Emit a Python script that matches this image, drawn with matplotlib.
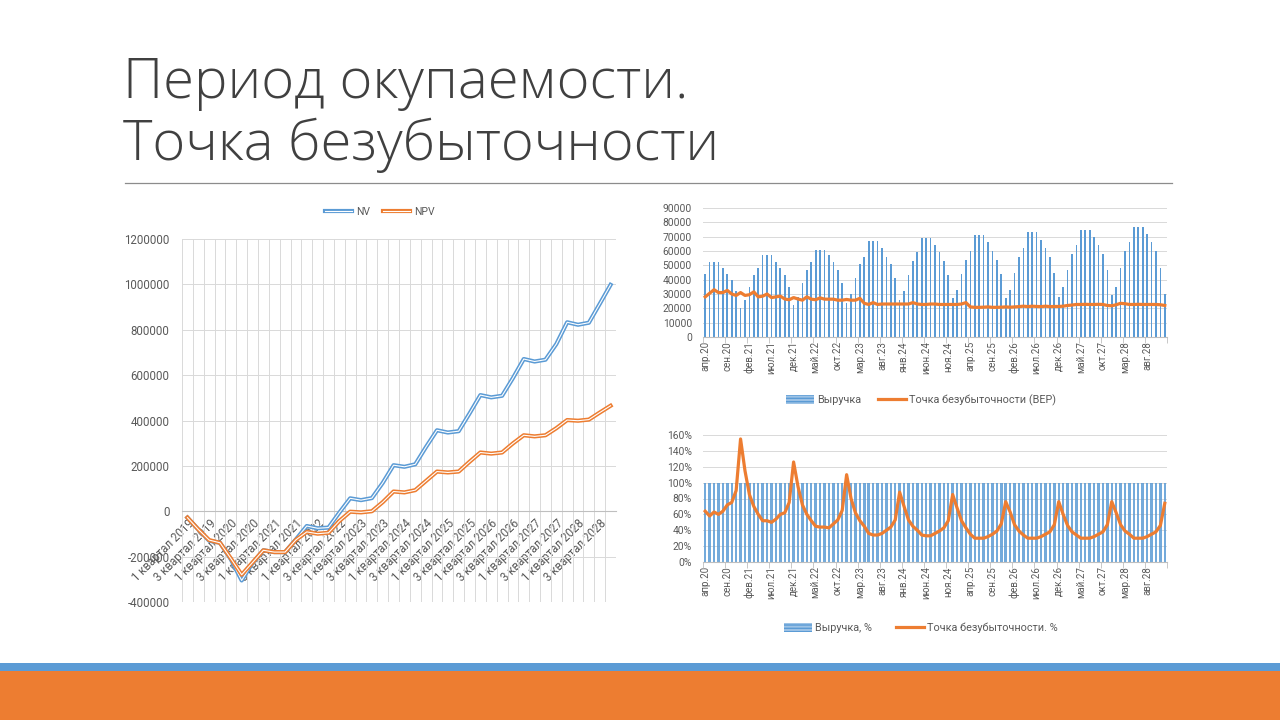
import matplotlib
matplotlib.use("Agg")
import matplotlib.pyplot as plt
import matplotlib.patheffects as pe
from matplotlib.patches import Rectangle, Patch
from matplotlib.lines import Line2D
import numpy as np

# ---------------- data ----------------
quarter_labels = [f"{q} квартал {y}" for y in range(2019, 2029) for q in range(1, 5)]
nv = [-28000, -80000, -130000, -139000, -212000, -305000, -228000, -172000, -180000, -180000,
      -124000, -65000, -75000, -72000, -6000, 57000, 49000, 58000, 125000, 203000,
      196000, 207000, 284000, 357000, 347000, 353000, 431000, 512000, 502000, 509000,
      587000, 671000, 660000, 668000, 737000, 833000, 822000, 831000, 914000, 998000]
npv = [-28000, -80000, -127000, -139000, -208000, -280000, -226000, -172000, -180000, -180000,
       -126000, -91000, -99000, -95000, -43000, -2000, -5000, 0, 40000, 87000,
       83000, 93000, 134000, 175000, 171000, 175000, 218000, 259000, 254000, 259000,
       299000, 335000, 330000, 335000, 366000, 402000, 399000, 404000, 435000, 465000]

month_names = ["янв", "фев", "мар", "апр", "май", "июн", "июл", "авг", "сен", "окт", "ноя", "дек"]
month_labels = [f"{month_names[m]}.{y % 100}" for y in range(2020, 2029) for m in range(12)
                if not (y == 2020 and m < 3)]

revenue = [44, 52, 52, 52, 48, 44, 40, 32, 20,
           26, 35, 43, 48, 57, 57, 57, 52, 48, 43, 35, 22,
           28, 38, 47, 52, 61, 61, 61, 57, 52, 47, 38, 24,
           30, 41, 51, 56, 67, 67, 67, 62, 56, 51, 41, 26,
           32, 43, 53, 59, 69, 69, 69, 64, 59, 53, 43, 27,
           33, 44, 54, 60, 71, 71, 71, 66, 60, 54, 44, 27,
           33, 45, 56, 62, 73, 73, 73, 68, 62, 56, 45, 28,
           35, 47, 58, 64, 75, 75, 75, 70, 64, 58, 47, 29,
           35, 48, 60, 66, 77, 77, 77, 72, 66, 60, 48, 30]  # thousands

bep = [28, 30.5, 33, 31, 31, 32.5, 30, 29, 31,
       29, 29.5, 31.5, 28, 28.5, 30, 27.5, 28, 28.5, 26.5, 26, 27.5,
       26.5, 25.7, 28, 26.4, 26, 27.3, 26.4, 26.4, 26.4, 25.7, 25.7, 26.2,
       25.7, 25.7, 27, 23.5, 22.7, 24, 22.7, 23, 23, 23, 23, 23,
       23, 23, 24, 23, 22.7, 22.7, 23, 23, 22.7, 22.7, 22.7, 22.7,
       22.7, 23, 24, 21, 20.7, 20.7, 20.8, 21, 20.7, 20.7, 20.8, 21,
       20.8, 21, 21.2, 21.5, 21.2, 21.5, 21.3, 21.2, 21.5, 21.2, 21.3, 21.3,
       21.5, 22, 22.3, 22.7, 22.7, 22.8, 22.7, 22.7, 22.8, 22.7, 22, 21.8,
       22.5, 23.5, 23.2, 22.7, 22.7, 22.8, 22.7, 22.7, 22.7, 22.7, 22.5, 22]  # thousands

revenue_pct = [100] * 105
bep_pct = [64, 58, 63, 60, 64, 72, 75, 90, 155,
           115, 85, 70, 60, 52, 52, 50, 54, 60, 62, 75, 126,
           95, 72, 60, 52, 45, 44, 44, 43, 48, 53, 65, 110,
           80, 62, 52, 45, 36, 34, 34, 36, 40, 44, 53, 88,
           70, 53, 45, 40, 34, 33, 33, 36, 39, 43, 52, 85,
           68, 52, 43, 35, 30, 30, 30, 32, 35, 39, 48, 76,
           63, 47, 39, 34, 30, 30, 30, 32, 35, 38, 47, 76,
           60, 46, 38, 34, 30, 30, 30, 32, 35, 38, 47, 76,
           62, 47, 39, 35, 30, 30, 30, 32, 35, 38, 46, 74]

# ---------------- style ----------------
BLUE = "#5B9BD5"
ORANGE = "#ED7D31"
TXT = "#595959"
GRID = "#D9D9D9"
CF = ["Roboto", "DejaVu Sans"]

W, H = 1280, 720
fig = plt.figure(figsize=(12.8, 7.2), dpi=100)
fig.patch.set_facecolor("white")

def fx(px):
    return px / W

def fy(py):
    return 1 - py / H

# title
tkw = dict(fontsize=40.5, family=["Open Sans", "DejaVu Sans"], weight="light", color="#404040",
           ha="left", va="baseline")
fig.text(fx(123), fy(98), "Период окупаемости.", **tkw)
fig.text(fx(123), fy(160), "Точка безубыточности", **tkw)
fig.add_artist(Line2D([fx(125), fx(1172)], [fy(183), fy(183)], color="#8C8C8C", lw=0.9,
                      transform=fig.transFigure))

# bottom bands
fig.add_artist(Rectangle((0, fy(671)), 1, 8 / H, transform=fig.transFigure,
                         facecolor="#5B9BD5", edgecolor="none"))
fig.add_artist(Rectangle((0, 0), 1, fy(671), transform=fig.transFigure,
                         facecolor=ORANGE, edgecolor="none"))

# ---------------- left chart ----------------
axL = fig.add_axes([fx(182), fy(602), fx(616) - fx(182), fy(239) - fy(602)])
for s in ["top", "right", "left"]:
    axL.spines[s].set_visible(False)
axL.spines["bottom"].set_position(("data", 0))
axL.spines["bottom"].set_color("#BFBFBF")

xq = np.arange(len(nv))
axL.plot(xq, nv, color="white", lw=0.8, label="NV", zorder=3,
         path_effects=[pe.Stroke(linewidth=3.0, foreground=BLUE), pe.Normal()])
axL.plot(xq, npv, color="white", lw=0.8, label="NPV", zorder=4,
         path_effects=[pe.Stroke(linewidth=3.0, foreground=ORANGE), pe.Normal()])
axL.set_xlim(-0.5, len(nv) - 0.5)
axL.set_ylim(-400000, 1200000)
yt = list(range(-400000, 1200001, 200000))
axL.set_yticks(yt)
axL.set_yticklabels([str(v) for v in yt], fontsize=8.3, color=TXT, family=CF)
axL.set_xticks(np.arange(-0.5, len(nv), 1), minor=True)
axL.set_xticks(xq[::2])
axL.set_xticklabels(quarter_labels[::2], rotation=45, ha="right", va="top",
                    rotation_mode="anchor", fontsize=8.3, color=TXT, family=CF)
axL.grid(True, axis="x", which="minor", color=GRID, lw=0.7)
axL.grid(True, axis="y", which="major", color=GRID, lw=0.7)
axL.grid(False, axis="x", which="major")
axL.set_axisbelow(True)
axL.tick_params(axis="both", which="both", length=0)
axL.tick_params(axis="x", pad=4)
axL.tick_params(axis="y", pad=9)
leg = axL.legend(loc="center", bbox_to_anchor=(fx(380), fy(212)), bbox_transform=fig.transFigure,
                 ncol=2, frameon=False, handlelength=2.6, columnspacing=1.2, handletextpad=0.4,
                 prop={"family": CF, "size": 7.5})
for t in leg.get_texts():
    t.set_color(TXT)

# ---------------- top-right chart ----------------
xm = np.arange(len(revenue))
axT = fig.add_axes([fx(703), fy(337), fx(1167) - fx(703), fy(208) - fy(337)])
axT.bar(xm, np.array(revenue) * 1000, width=0.38, color=BLUE, zorder=2)
axT.plot(xm, np.array(bep) * 1000, color=ORANGE, lw=2.3, zorder=3, solid_joinstyle="round")
axT.set_xlim(-0.5, len(revenue) - 0.5)
axT.set_ylim(0, 90000)
ytT = list(range(0, 90001, 10000))
axT.set_yticks(ytT)
axT.set_yticklabels([str(v) for v in ytT], fontsize=7.4, color=TXT, family=CF)
axT.grid(True, axis="y", color=GRID, lw=0.7)
axT.set_axisbelow(True)

# ---------------- bottom-right chart ----------------
axB = fig.add_axes([fx(703), fy(562), fx(1167) - fx(703), fy(435) - fy(562)])
axB.bar(xm, np.array(revenue_pct) / 100, width=0.55, color=BLUE, alpha=0.85, zorder=2)
axB.plot(xm, np.array(bep_pct) / 100, color=ORANGE, lw=2.3, zorder=3, solid_joinstyle="round")
axB.set_xlim(-0.5, len(revenue) - 0.5)
axB.set_ylim(0, 1.6)
ytB = [i / 10 for i in range(0, 17, 2)]
axB.set_yticks(ytB)
axB.set_yticklabels([f"{int(round(v * 100))}%" for v in ytB], fontsize=7.4, color=TXT, family=CF)
axB.grid(True, axis="y", color=GRID, lw=0.7)
axB.set_axisbelow(True)

for ax in (axT, axB):
    for s in ["top", "right", "left"]:
        ax.spines[s].set_visible(False)
    ax.spines["bottom"].set_color("#BFBFBF")
    ax.set_xticks(np.arange(-0.5, len(revenue), 5), minor=True)
    ax.set_xticks(xm[::5])
    ax.set_xticklabels(month_labels[::5], rotation=90, ha="center", va="top",
                       fontsize=7.0, color=TXT, family=CF)
    ax.tick_params(axis="x", which="major", length=0, pad=3)
    ax.tick_params(axis="x", which="minor", length=4, color="#BFBFBF")
    ax.tick_params(axis="y", length=0, pad=8)

bar_handle = Patch(facecolor="#9DC3E6", edgecolor=BLUE, hatch="-----", lw=0)
line_handle = Line2D([], [], color=ORANGE, lw=2.3)
legT = axT.legend([bar_handle, line_handle], ["Выручка", "Точка безубыточности (BEP)"],
                  loc="center", bbox_to_anchor=(fx(921), fy(400)), bbox_transform=fig.transFigure,
                  ncol=2, frameon=False, handlelength=2.6, handleheight=0.8, columnspacing=1.5,
                  handletextpad=0.3, prop={"family": CF, "size": 7.8})
legB = axB.legend([bar_handle, line_handle], ["Выручка, %", "Точка безубыточности. %"],
                  loc="center", bbox_to_anchor=(fx(921), fy(628)), bbox_transform=fig.transFigure,
                  ncol=2, frameon=False, handlelength=2.6, handleheight=0.8, columnspacing=2.2,
                  handletextpad=0.3, prop={"family": CF, "size": 7.8})
for lg in (legT, legB):
    for t in lg.get_texts():
        t.set_color(TXT)

fig.savefig("out.png", dpi=100, facecolor="white")
